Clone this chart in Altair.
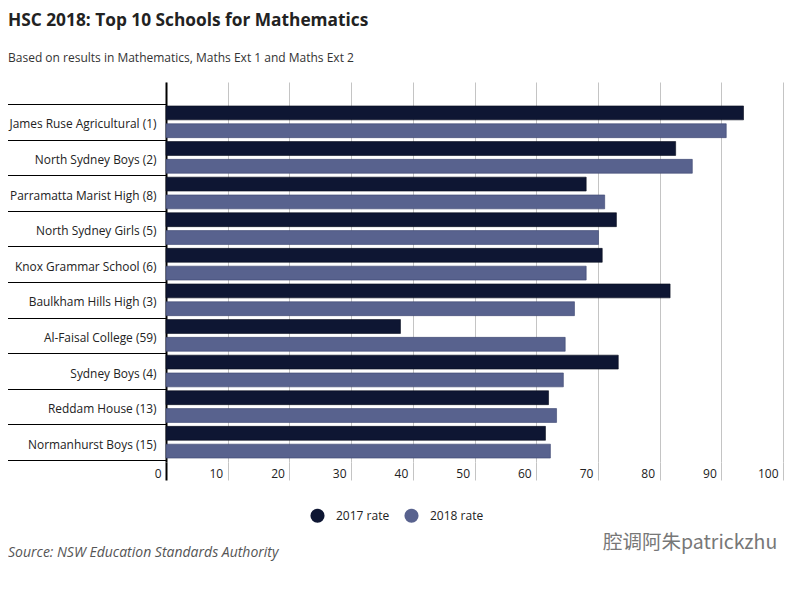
import altair as alt
import pandas as pd

schools = [
    "James Ruse Agricultural (1)",
    "North Sydney Boys (2)",
    "Parramatta Marist High (8)",
    "North Sydney Girls (5)",
    "Knox Grammar School (6)",
    "Baulkham Hills High (3)",
    "Al-Faisal College (59)",
    "Sydney Boys (4)",
    "Reddam House (13)",
    "Normanhurst Boys (15)",
]
rate_2017 = [93.6, 82.6, 68.1, 73.0, 70.7, 81.7, 38.0, 73.3, 62.0, 61.5]
rate_2018 = [90.8, 85.3, 71.1, 70.1, 68.1, 66.2, 64.7, 64.4, 63.3, 62.3]
series = ["2017 rate", "2018 rate"]
colors = ["#0e1633", "#58628e"]
x_ticks = [0, 10, 20, 30, 40, 50, 60, 70, 80, 90, 100]

FONT = "Open Sans"

rows = []
for s, a, b in zip(schools, rate_2017, rate_2018):
    rows.append({"school": s, "series": series[0], "rate": a})
    rows.append({"school": s, "series": series[1], "rate": b})
df = pd.DataFrame(rows)

bars = alt.Chart(df).mark_bar(strokeWidth=1, strokeOpacity=0.6).encode(
    x=alt.X(
        "rate:Q",
        scale=alt.Scale(domain=[0, 100], nice=False),
        axis=alt.Axis(
            values=x_ticks,
            title=None,
            grid=True,
            gridColor="#c4c4c4",
            gridWidth=1,
            domain=False,
            ticks=True,
            tickSize=18,
            tickColor={"condition": {"test": "datum.value == 0", "value": "#000000"}, "value": "#c4c4c4"},
            tickWidth={"condition": {"test": "datum.value == 0", "value": 2}, "value": 1},
            labelPadding=-12,
            labelAlign="right",
            labelOffset=-5,
            labelFont=FONT,
            labelFontSize=12,
            labelColor="#222222",
        ),
    ),
    y=alt.Y(
        "school:N",
        sort=schools,
        scale=alt.Scale(paddingInner=0, paddingOuter=0.337, align=0.917),
        axis=alt.Axis(
            title=None,
            domain=True,
            domainColor="#000000",
            domainWidth=2,
            ticks=True,
            tickBand="extent",
            tickSize=160,
            tickColor="#000000",
            tickWidth=1,
            labelPadding=-150,
            labelOffset=2,
            labelFont=FONT,
            labelFontSize=11.9,
            labelColor="#222222",
            labelAlign="right",
            labelBaseline="middle",
        ),
    ),
    yOffset=alt.YOffset(
        "series:N",
        sort=series,
        scale=alt.Scale(paddingInner=0.22, paddingOuter=0.11),
    ),
    color=alt.Color(
        "series:N",
        sort=series,
        scale=alt.Scale(domain=series, range=colors),
        legend=alt.Legend(
            title=None,
            orient="none",
            legendX=144,
            legendY=426,
            direction="horizontal",
            symbolType="circle",
            symbolSize=200,
            symbolStrokeWidth=0,
            labelFont=FONT,
            labelFontSize=12,
            labelColor="#222222",
            labelOffset=11,
            columnPadding=14,
        ),
    ),
    stroke=alt.Stroke(
        "series:N",
        sort=series,
        scale=alt.Scale(domain=series, range=["#070b1c", "#3b4470"]),
        legend=None,
    ),
)

one = pd.DataFrame({"k": [0]})

title = alt.Chart(one).mark_text(
    text="HSC 2018: Top 10 Schools for Mathematics",
    align="left", baseline="alphabetic", font=FONT, fontSize=17.3, fontWeight="bold", color="#222222",
).encode(x=alt.value(-158), y=alt.value(-56))

subtitle = alt.Chart(one).mark_text(
    text="Based on results in Mathematics, Maths Ext 1 and Maths Ext 2",
    align="left", baseline="alphabetic", font=FONT, fontSize=12, color="#333333",
).encode(x=alt.value(-158), y=alt.value(-20))

source = alt.Chart(one).mark_text(
    text="Source:  NSW Education Standards Authority",
    align="left", baseline="alphabetic", font=FONT, fontSize=14, fontStyle="italic", color="#555555",
).encode(x=alt.value(-158), y=alt.value(475))

watermark = alt.Chart(one).mark_text(
    text="腔调阿朱patrickzhu",
    align="left", baseline="alphabetic", font="Noto Sans CJK SC", fontSize=19.5, color="#777777",
).encode(x=alt.value(437), y=alt.value(467))

chart = alt.layer(bars, title, subtitle, source, watermark).properties(
    width=617,
    height=380,
    autosize=alt.AutoSizeParams(type="none"),
    padding={"left": 158, "top": 74, "right": 8, "bottom": 110},
).configure_view(stroke=None)

chart.save("out.html", embed_options={"renderer": "svg", "actions": False})
